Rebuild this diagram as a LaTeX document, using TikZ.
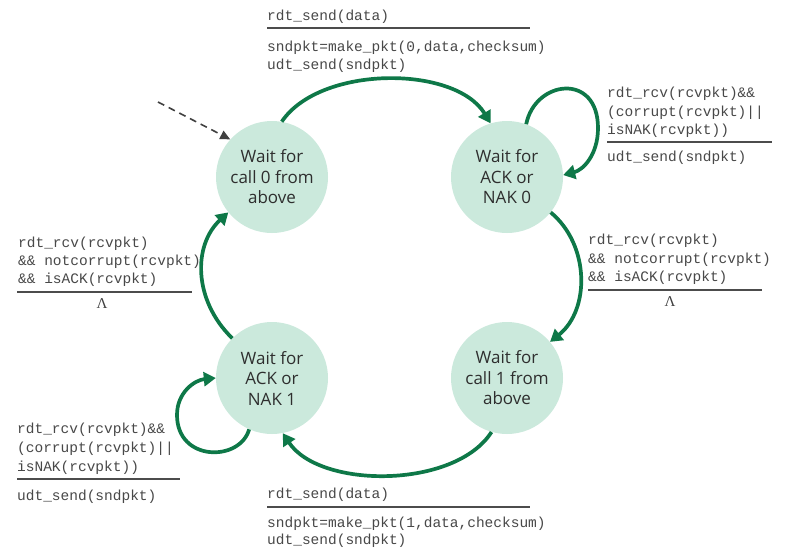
\documentclass[tikz,border=0pt]{standalone}
\usepackage{fontspec}
\setmainfont{Open Sans}
\newfontfamily\monofont{Liberation Mono}
\newfontfamily\lamfont{Liberation Serif}
\usetikzlibrary{arrows.meta}
\definecolor{mint}{RGB}{203,233,220}
\definecolor{fsmgreen}{RGB}{14,120,72}
\definecolor{txtgray}{RGB}{72,72,72}
\begin{document}
\begin{tikzpicture}[x=1pt,y=-1pt,
  fsmstate/.style={circle,fill=mint,minimum size=112pt,inner sep=0pt,align=center,
    font=\fontsize{17}{20.5}\selectfont,text=black!82},
  trans/.style={draw=fsmgreen,line width=3.7pt,-{Triangle[length=12pt,width=14pt]}},
  initarr/.style={draw=black!75,line width=1.6pt,dash pattern=on 7pt off 5pt,
    -{Triangle[length=10pt,width=9pt]}},
  code/.style={anchor=base west,inner sep=0pt,font=\monofont\fontsize{14.5}{18}\selectfont,text=txtgray},
  rulebar/.style={draw=black!70,line width=1.4pt},
  lam/.style={anchor=base,inner sep=0pt,font=\lamfont\fontsize{15}{15}\selectfont,text=black!75}]
\fill[white] (0,0) rectangle (788,560);
\useasboundingbox (0,0) rectangle (788,560);

% states
\node[fsmstate] (c1) at (272,177) {Wait for\\call 0 from\\above};
\node[fsmstate] (c2) at (507,177) {Wait for\\ACK or\\NAK 0};
\node[fsmstate] (c3) at (272,378) {Wait for\\ACK or\\NAK 1};
\node[fsmstate] (c4) at (507,378) {Wait for\\call 1 from\\above};

% initial
\coordinate (init) at (158,102);
\draw[initarr] (init) -- (c1.138);

% transitions
\draw[trans] (c1.80) .. controls (320,65) and (455,65) .. (c2.107);
\draw[trans] (c2.-39) .. controls (590,245) and (590,310) .. (c4.40);
\draw[trans] (c4.254) .. controls (455,489) and (320,489) .. (c3.-79);
\draw[trans] (c3.135) .. controls (193,300) and (193,245) .. (c1.219);
\draw[trans] (c2.70) .. controls (535,80) and (598,72) .. (598,128)
   .. controls (598,155) and (583,170) .. (c2.2);
\draw[trans] (c3.246) .. controls (240,462) and (177,462) .. (177,415)
   .. controls (177,392) and (195,380) .. (c3.180);

% top label
\node[code] (t1) at (267,20) {rdt\_send(data)};
\draw[rulebar] (267,28) -- (530,28);
\node[code] (t2) at (267,51) {sndpkt=make\_pkt(0,data,checksum)};
\node[code] (t3) at (267,69) {udt\_send(sndpkt)};

% right top label
\node[code] (r1) at (607,97) {rdt\_rcv(rcvpkt)\&\&};
\node[code] (r2) at (607,116) {(corrupt(rcvpkt)||};
\node[code] (r3) at (607,134) {isNAK(rcvpkt))};
\draw[rulebar] (607,142) -- (772,142);
\node[code] (r4) at (607,161) {udt\_send(sndpkt)};

% left middle label
\node[code] (l1) at (18,247) {rdt\_rcv(rcvpkt)};
\node[code] (l2) at (18,265) {\&\& notcorrupt(rcvpkt)};
\node[code] (l3) at (18,283) {\&\& isACK(rcvpkt)};
\draw[rulebar] (17,292) -- (192,292);
\node[lam] (l4) at (102,308) {Λ};

% right middle label
\node[code] (m1) at (588,244) {rdt\_rcv(rcvpkt)};
\node[code] (m2) at (588,263) {\&\& notcorrupt(rcvpkt)};
\node[code] (m3) at (588,281) {\&\& isACK(rcvpkt)};
\draw[rulebar] (588,290) -- (762,290);
\node[lam] (m4) at (670,306) {Λ};

% bottom left label
\node[code] (b1) at (17,433) {rdt\_rcv(rcvpkt)\&\&};
\node[code] (b2) at (17,452) {(corrupt(rcvpkt)||};
\node[code] (b3) at (17,471) {isNAK(rcvpkt))};
\draw[rulebar] (17,479) -- (180,479);
\node[code] (b4) at (17,500) {udt\_send(sndpkt)};

% bottom label
\node[code] (d1) at (267,498) {rdt\_send(data)};
\draw[rulebar] (267,507) -- (530,507);
\node[code] (d2) at (267,527) {sndpkt=make\_pkt(1,data,checksum)};
\node[code] (d3) at (267,544) {udt\_send(sndpkt)};
\end{tikzpicture}
\end{document}
